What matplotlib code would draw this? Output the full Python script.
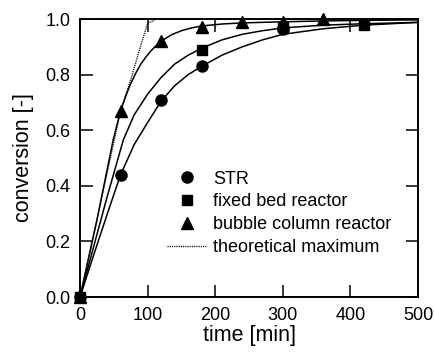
import matplotlib
matplotlib.use("Agg")
import matplotlib.pyplot as plt

plt.rcParams["font.family"] = ["Liberation Sans", "DejaVu Sans"]

# measured conversions
str_t = [0, 60, 120, 180, 300]
str_x = [0.0, 0.44, 0.71, 0.83, 0.965]

fixed_t = [0, 180, 300, 420]
fixed_x = [0.0, 0.89, 0.97, 0.98]

bubble_t = [0, 60, 120, 180, 240, 300, 360]
bubble_x = [0.0, 0.67, 0.92, 0.97, 0.99, 0.99, 1.0]

# fitted model curves
str_fit_t = [0, 20, 40, 60, 80, 100, 120, 140, 160, 180, 210, 240, 270, 300,
             360, 420, 500]
str_fit_x = [0.0, 0.15, 0.297, 0.44, 0.548, 0.628, 0.705, 0.76, 0.80, 0.83,
             0.87, 0.90, 0.925, 0.945, 0.965, 0.978, 0.988]

fixed_fit_t = [0, 20, 40, 64, 80, 100, 120, 140, 160, 180, 210, 240, 270, 300,
               360, 420, 500]
fixed_fit_x = [0.0, 0.18, 0.36, 0.565, 0.655, 0.73, 0.79, 0.838, 0.87, 0.895,
               0.925, 0.945, 0.958, 0.968, 0.978, 0.983, 0.988]

bubble_fit_t = [0, 25, 49, 60, 68, 75, 83, 90, 98, 105, 113, 120, 135, 150,
                165, 180, 210, 240, 300, 360, 420, 500]
bubble_fit_x = [0.0, 0.277, 0.565, 0.67, 0.725, 0.768, 0.808, 0.838, 0.865,
                0.886, 0.905, 0.92, 0.943, 0.958, 0.968, 0.975, 0.982, 0.986,
                0.99, 0.993, 0.995, 0.997]

# theoretical maximum
theo_t = [0, 60, 76, 88, 100, 110]
theo_x = [0.0, 0.67, 0.79, 0.89, 0.985, 0.995]

fig = plt.figure(figsize=(4.35, 3.52), dpi=100)
ax = fig.add_axes([0.184, 0.156, 0.777, 0.790])

lw = 1.1
ax.plot(str_fit_t, str_fit_x, color="black", lw=lw)
ax.plot(fixed_fit_t, fixed_fit_x, color="black", lw=lw)
ax.plot(bubble_fit_t, bubble_fit_x, color="black", lw=lw)
ax.plot(theo_t, theo_x, color="black", lw=1.0, ls=(0, (0.8, 0.8)),
        label="theoretical maximum")

ax.plot(str_t, str_x, "o", color="black", ms=8, clip_on=False, zorder=3,
        label="STR")
ax.plot(bubble_t, bubble_x, "^", color="black", ms=8, clip_on=False, zorder=3,
        label="bubble column reactor")
ax.plot(fixed_t, fixed_x, "s", color="black", ms=7, clip_on=False, zorder=4,
        label="fixed bed reactor")

handles, labels = ax.get_legend_handles_labels()
order = ["STR", "fixed bed reactor", "bubble column reactor", "theoretical maximum"]
hmap = dict(zip(labels, handles))
ax.legend([hmap[k] for k in order], order, loc="upper left",
          bbox_to_anchor=(0.258, 0.455), frameon=False, fontsize=13,
          handlelength=2.2, handletextpad=0.35, labelspacing=0.32,
          borderpad=0, borderaxespad=0)

ax.set_xlim(0, 500)
ax.set_ylim(0, 1.0)
ax.set_xticks([0, 100, 200, 300, 400, 500])
ax.set_yticks([0.0, 0.2, 0.4, 0.6, 0.8, 1.0])
ax.set_yticklabels(["0.0", "0.2", "0.4", "0.6", "0.8", "1.0"])
ax.tick_params(direction="in", length=9, width=1.1, top=True, right=True,
               labelsize=13, pad=7)
for s in ax.spines.values():
    s.set_linewidth(1.4)

ax.set_xlabel("time [min]", fontsize=15.5, labelpad=1)
ax.set_ylabel("conversion [-]", fontsize=15.5, labelpad=8)

fig.savefig("out.png", dpi=100)
